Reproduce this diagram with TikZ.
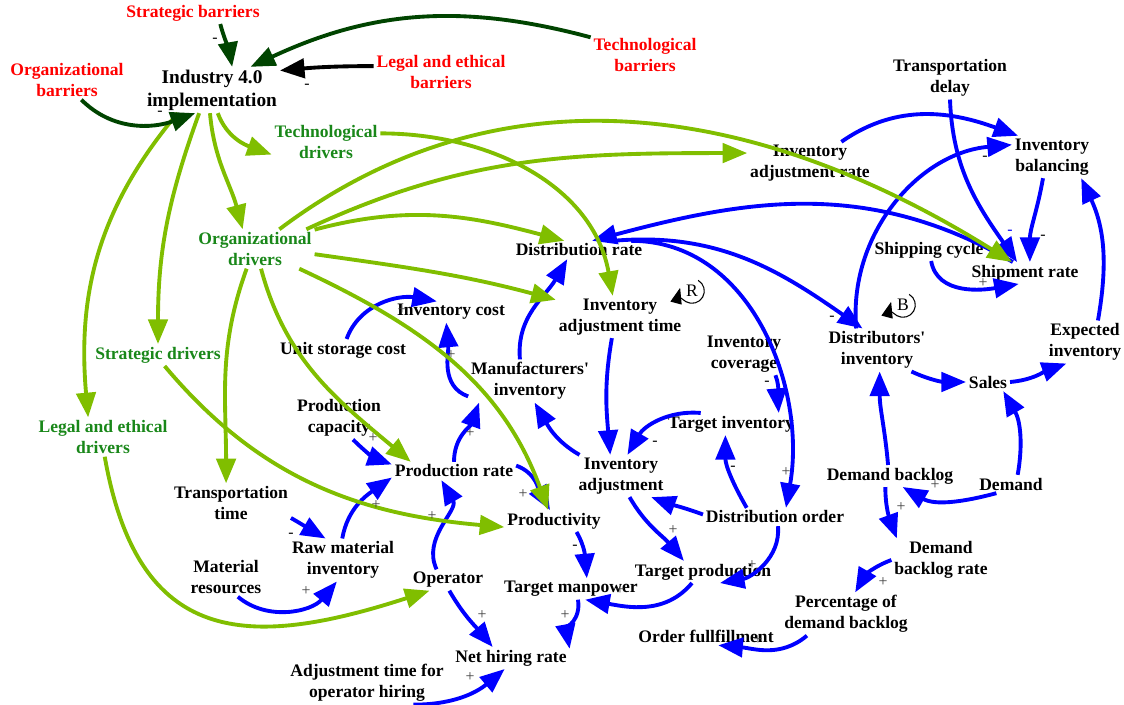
\documentclass[tikz,border=0pt]{standalone}
\usepackage{fontspec}
\setmainfont{Liberation Serif}
\usetikzlibrary{arrows.meta}
\definecolor{drvtxt}{RGB}{25,135,25}
\definecolor{drvline}{RGB}{128,190,0}
\definecolor{barline}{RGB}{0,68,0}

\begin{document}
\begin{tikzpicture}[x=0.02cm,y=-0.02cm,
  var/.style={font=\fontsize{10}{12}\selectfont\bfseries,align=center,inner sep=1.5pt},
  bar/.style={var,text=red},
  drv/.style={var,text=drvtxt},
  sgn/.style={font=\fontsize{9}{9}\selectfont,inner sep=0pt},
  lnk/.style={line width=2.2pt,-{Triangle[length=14pt,width=11pt]}},
  blu/.style={lnk,draw=blue},
  grn/.style={lnk,draw=drvline},
  dgr/.style={lnk,draw=barline},
  blk/.style={lnk,draw=black},
  loopmk/.style={line width=0.6pt,-{Triangle[length=9pt,width=6.5pt]}}]
 \useasboundingbox (0,0) rectangle (1124,705); %全体の大きさ

 \node[var,font=\fontsize{11}{13}\selectfont\bfseries] (I40) at (212,90) {Industry 4.0\\implementation}; %中心
 \node[bar] (SB) at (193,13) {Strategic barriers}; %障壁
 \node[bar] (OB) at (67,80) {Organizational\\barriers};
 \node[bar] (LB) at (441,72) {Legal and ethical\\barriers};
 \node[bar] (TB) at (645,55) {Technological\\barriers};
 \node[drv] (TD) at (326,142) {Technological\\drivers}; %推進要因
 \node[drv] (OD) at (255,249) {Organizational\\drivers};
 \node[drv] (SD) at (158,355) {Strategic drivers};
 \node[drv] (LD) at (103,437) {Legal and ethical\\drivers};

 \node[var] (IAR) at (810,163) {Inventory\\adjustment rate}; %変数
 \node[var] (TDL) at (950,78) {Transportation\\delay};
 \node[var] (IB) at (1052,157) {Inventory\\balancing};
 \node[var] (DR) at (579,250) {Distribution rate};
 \node[var] (SC) at (929,250) {Shipping cycle};
 \node[var] (SR) at (1025,273) {Shipment rate};
 \node[var] (EI) at (1085,342) {Expected\\inventory};
 \node[var] (DI) at (877,350) {Distributors\textquotesingle\\inventory};
 \node[var] (SA) at (988,382) {Sales};
 \node[var] (IAT) at (620,317) {Inventory\\adjustment time};
 \node[var] (IC) at (451,312) {Inventory cost};
 \node[var] (USC) at (343,350) {Unit storage cost};
 \node[var] (MI) at (530,381) {Manufacturers\textquotesingle\\inventory};
 \node[var] (ICV) at (744,354) {Inventory\\coverage};
 \node[var] (TI) at (731,424) {Target inventory};
 \node[var] (PC) at (339,418) {Production\\capacity};
 \node[var] (PR) at (454,471) {Production rate};
 \node[var] (IA) at (621,476) {Inventory\\adjustment};
 \node[var] (DB) at (890,476) {Demand backlog};
 \node[var] (DM) at (1011,484) {Demand};
 \node[var] (DO) at (775,517) {Distribution order};
 \node[var] (PD) at (554,521) {Productivity};
 \node[var] (TT) at (231,503) {Transportation\\time};
 \node[var] (RMI) at (343,560) {Raw material\\inventory};
 \node[var] (MR) at (226,577) {Material\\resources};
 \node[var] (OP) at (448,580) {Operator};
 \node[var] (TM) at (571,589) {Target manpower};
 \node[var] (TP) at (703,572) {Target production};
 \node[var] (DBR) at (941,560) {Demand\\backlog rate};
 \node[var] (PDB) at (846,614) {Percentage of\\demand backlog};
 \node[var] (OF) at (706,636) {Order fullfillment};
 \node[var] (NHR) at (511,658) {Net hiring rate};
 \node[var] (ATH) at (367,683) {Adjustment time for\\operator hiring};

 %青の因果リンク
 \draw[blu] (TDL.-90) to[out=-88,in=125] (SR.126);
 \draw[blu] (IAR.34) to[out=35,in=160] (IB.148);
 \draw[blu] (DI.134) to[out=95,in=185] (IB.163);
 \draw[blu] (IB.-113) to[out=-100,in=90] (SR.66);
 \draw[blu] (EI.59) to[out=80,in=-65] (IB.-36);
 \draw[blu] (SR.138) to[out=150,in=15] (DR.35);
 \draw[blu] (DR.15) to[out=5,in=145] (DI.124);
 \draw[blu] (DR.10) to[out=0,in=80] (DO.40);
 \draw[blu] (SC.-79) to[out=-80,in=190] (SR.-120);
 \draw[blu] (DI.-32) to[out=-25,in=180] (SA.180);
 \draw[blu] (SA.0) to[out=5,in=200] (EI.-131);
 \draw[blu] (DM.54) to[out=80,in=-60] (SA.-31);
 \draw[blu] (DB.100) to[out=95,in=-90] (DI.-83);
 \draw[blu] (DM.-148) to[out=195,in=-30] (DB.-41);
 \draw[blu] (DB.-113) to[out=-90,in=110] (DBR.154);
 \draw[blu] (DBR.180) to[out=200,in=60] (PDB.67);
 \draw[blu] (PDB.-151) to[out=220,in=-5] (OF.-37);
 \draw[blu] (DO.178) to[out=160,in=-20] (IA.-35);
 \draw[blu] (DO.162) to[out=120,in=-90] (TI.-117);
 \draw[blu] (DO.-72) to[out=-85,in=10] (TP.-33);
 \draw[blu] (IA.-68) to[out=-60,in=130] (TP.150);
 \draw[blu] (TP.-135) to[out=-130,in=-10] (TM.-37);
 \draw[blu] (PD.-26) to[out=-60,in=95] (TM.34);
 \draw[blu] (TM.-57) to[out=-80,in=100] (NHR.9);
 \draw[blu] (OP.-83) to[out=-60,in=130] (NHR.149);
 \draw[blu] (ATH.-25) to[out=0,in=220] (NHR.-120);
 \draw[blu] (OP.137) to[out=115,in=-60] (PR.-144);
 \draw[blu] (RMI.92) to[out=80,in=215] (PR.-174);
 \draw[blu] (TT.-14) to[out=-30,in=150] (RMI.129);
 \draw[blu] (MR.-59) to[out=-40,in=230] (RMI.-106);
 \draw[blu] (PC.-57) to[out=-45,in=160] (PR.174);
 \draw[blu] (PR.90) to[out=90,in=250] (MI.-157);
 \draw[blu] (MI.-166) to[out=160,in=-85] (IC.-114);
 \draw[blu] (USC.72) to[out=70,in=170] (IC.143);
 \draw[blu] (MI.115) to[out=95,in=240] (DR.-142);
 \draw[blu] (IA.153) to[out=150,in=-60] (MI.-78);
 \draw[blu] (IAT.-111) to[out=-100,in=95] (IA.117);
 \draw[blu] (TI.160) to[out=175,in=60] (IA.73);
 \draw[blu] (ICV.-34) to[out=-70,in=95] (TI.13);
 \draw[blu] (PR.5) to[out=-20,in=120] (PD.110);

 %推進要因のリンク
 \draw[grn] (I40.-76) to[out=-70,in=160] (TD.-167);
 \draw[grn] (I40.-95) to[out=-85,in=105] (OD.122);
 \draw[grn] (I40.-119) to[out=-110,in=90] (SD.90);
 \draw[grn] (I40.-146) to[out=-130,in=95] (LD.127);
 \draw[grn] (OD.39) to[out=37,in=148] (SR.140);
 \draw[grn] (OD.21) to[out=25,in=180] (IAR.171);
 \draw[grn] (OD.18) to[out=15,in=165] (DR.148);
 \draw[grn] (OD.-5) to[out=-8,in=165] (IAT.165);
 \draw[grn] (OD.-24) to[out=-25,in=110] (PD.118);
 \draw[grn] (OD.-73) to[out=-75,in=140] (PR.168);
 \draw[grn] (OD.-113) to[out=-110,in=90] (TT.104);
 \draw[grn] (SD.-59) to[out=-50,in=175] (PD.-173);
 \draw[grn] (LD.-85) to[out=-80,in=198,looseness=1.4] (OP.-150);
 \draw[grn] (TD.9) to[out=0,in=100] (IAT.109);

 %障壁のリンク
 \draw[dgr] (SB.-22) to[out=-75,in=100] (I40.49);
 \draw[dgr] (TB.162) to[out=165,in=25] (I40.31);
 \draw[dgr] (OB.-54) to[out=-45,in=200] (I40.-126);
 \draw[blk] (LB.175) to[out=180,in=5] (I40.16);

 %極性
 \foreach \x/\y/\s/\c [count=\i] in {215/40/-/black,160/113/-/black,307/86/-/black,
   1010/232/-/blue,985/158/-/black,1043/237/-/black,832/318/-/black,786/472/+/black!75,
   983/283/+/black!75,935/485/+/black!75,901/507/+/black!75,883/582/+/black!75,
   733/468/-/black,752/565/+/black!75,673/530/+/black!75,620/590/+/black!75,
   575/547/-/black,565/615/+/black!75,482/615/+/black!75,470/677/+/black!75,
   432/516/+/black!75,376/505/+/black!75,523/494/+/black!75,291/535/-/black,
   306/591/+/black!75,373/438/+/black!75,470/433/+/black!75,451/355/+/black!75,
   402/310/+/black!75,655/443/-/black,767/383/-/black,758/640/+/black!75}
   \node[sgn,text=\c] (sg\i) at (\x,\y) {\s};

 %ループ記号
 \node[font=\fontsize{10}{10}\selectfont,inner sep=0pt] (RL) at (692,291) {R};
 \draw[loopmk] (RL.center) ++(60:7pt) arc[start angle=60,end angle=-195,radius=7pt];
 \node[font=\fontsize{10}{10}\selectfont,inner sep=0pt] (BL) at (903,305) {B};
 \draw[loopmk] (BL.center) ++(60:7pt) arc[start angle=60,end angle=-195,radius=7pt];
\end{tikzpicture}
\end{document}
